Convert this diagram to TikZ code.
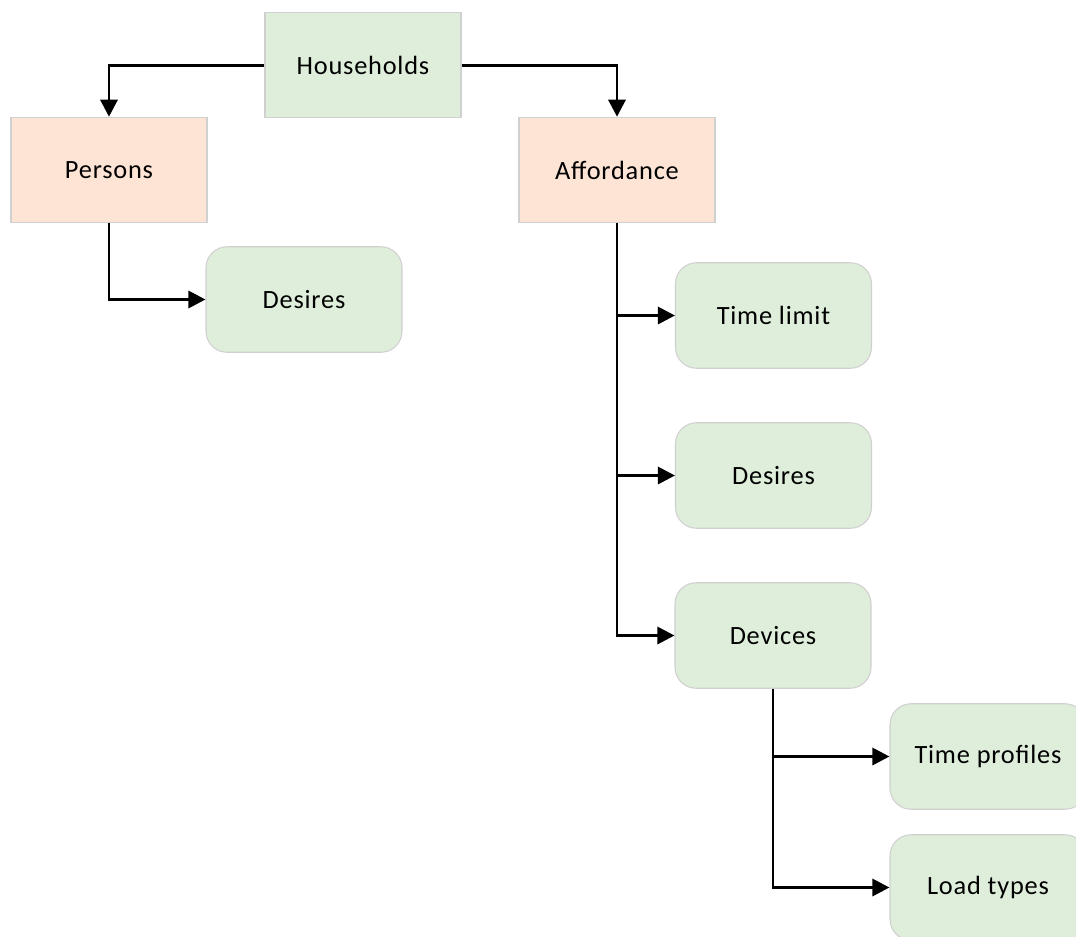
\documentclass[tikz,border=0pt]{standalone}
\usepackage{fontspec}
\setmainfont{Carlito}[LetterSpace=3]
\usetikzlibrary{positioning, arrows.meta}
\definecolor{boxgreen}{RGB}{222,238,218}
\definecolor{boxpeach}{RGB}{253,228,213}
\definecolor{boxline}{RGB}{208,208,208}
\begin{document}
\begin{tikzpicture}

	\tikzstyle{level}=[rectangle, draw=boxline, line width=0.6pt, minimum width=3.92cm, minimum height=2.11cm, inner sep=0pt, font=\fontsize{15}{17}\selectfont]
	\tikzstyle{root}=[level, fill=boxgreen]
	\tikzstyle{group}=[level, fill=boxpeach]
	\tikzstyle{item}=[level, fill=boxgreen, rounded corners=0.42cm]
	\tikzstyle{arc}=[-{Triangle[length=0.34cm,width=0.34cm]}, line width=1.7pt, black]

	\useasboundingbox (0,0) rectangle (21.52,-18.72);

	% placement des noeuds
	\node[root] (hh) at (7.26,-1.30) {Households};
	\node[group] (pers) at (2.18,-3.40) {Persons};
	\node[group] (aff) at (12.34,-3.40) {Affordance};
	\node[item] (des1) at (6.08,-5.99) {Desires};
	\node[item] (tl) at (15.47,-6.31) {Time limit};
	\node[item] (des2) at (15.47,-9.51) {Desires};
	\node[item] (dev) at (15.46,-12.71) {Devices};
	\node[item] (tp) at (19.76,-15.13) {Time profiles};
	\node[item] (lt) at (19.76,-17.75) {Load types};

	% arcs
	\draw[arc] (hh.west) -| (pers.north);
	\draw[arc] (hh.east) -| (aff.north);
	\draw[arc] (pers.south) |- (des1.west);
	\draw[arc] (aff.south) |- (tl.west);
	\draw[arc] (aff.south) |- (des2.west);
	\draw[arc] (aff.south) |- (dev.west);
	\draw[arc] (dev.south) |- (tp.west);
	\draw[arc] (dev.south) |- (lt.west);

\end{tikzpicture}
\end{document}
